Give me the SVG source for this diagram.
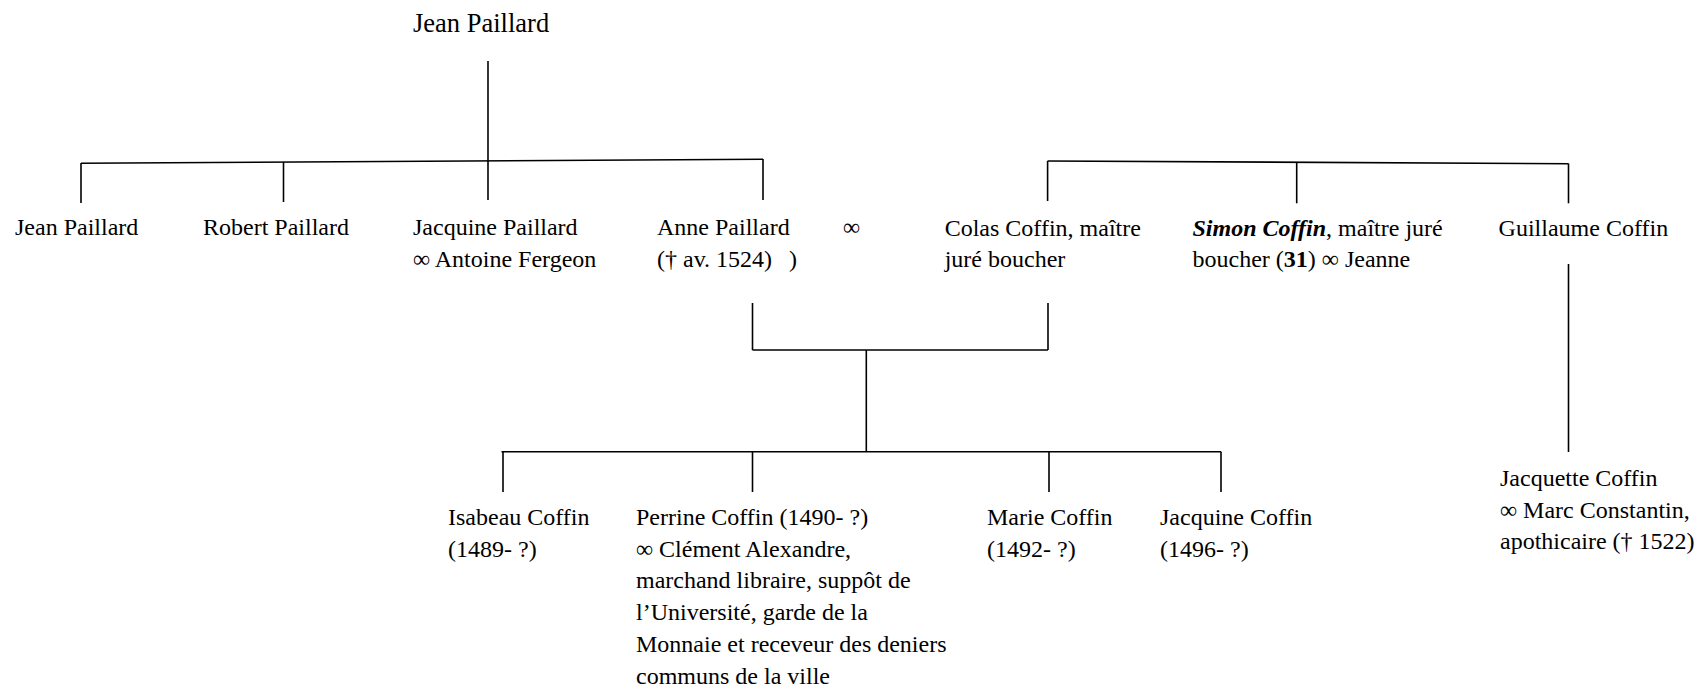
<svg xmlns="http://www.w3.org/2000/svg" width="1699" height="687" viewBox="0 0 1699 687">
<style>
text{font-family:'Liberation Serif','Tinos','Times New Roman','DejaVu Serif',serif;font-size:24px;fill:#000}
.t{font-size:26.5px}
.c line{stroke:#000;stroke-width:1.6;fill:none}
</style>
<rect width="1699" height="687" fill="#fff"/>
<g class="c" id="connectors">
<line x1="488" y1="61" x2="488" y2="200"/>
<line x1="81" y1="163.3" x2="763" y2="159.3"/>
<line x1="81" y1="163" x2="81" y2="203"/>
<line x1="283.5" y1="162" x2="283.5" y2="202"/>
<line x1="763" y1="159" x2="763" y2="200"/>
<line x1="1047.6" y1="161" x2="1568.5" y2="163.7"/>
<line x1="1047.6" y1="161" x2="1047.6" y2="201"/>
<line x1="1296.7" y1="162.5" x2="1296.7" y2="203.3"/>
<line x1="1568.5" y1="163.5" x2="1568.5" y2="203.3"/>
<line x1="1568.5" y1="264" x2="1568.5" y2="452"/>
<line x1="752.5" y1="303" x2="752.5" y2="350"/>
<line x1="1048" y1="303" x2="1048" y2="350"/>
<line x1="752.5" y1="350" x2="1048" y2="350"/>
<line x1="866.3" y1="350" x2="866.3" y2="451"/>
<line x1="501.5" y1="451.7" x2="1221.3" y2="451.7"/>
<line x1="503" y1="452" x2="503" y2="492"/>
<line x1="752.5" y1="452" x2="752.5" y2="492"/>
<line x1="1049" y1="452" x2="1049" y2="492"/>
<line x1="1221" y1="452" x2="1221" y2="492"/>
</g>
<g id="n-jean-root"><text class="t" font-family="Liberation Serif" x="413" y="31.7">Jean Paillard</text></g>
<g id="n-jean"><text x="15" y="235">Jean Paillard</text></g>
<g id="n-robert"><text x="203" y="235">Robert Paillard</text></g>
<g id="n-jacquine-p"><text x="413" y="235">Jacquine Paillard</text><text x="413" y="266.7">∞ Antoine Fergeon</text></g>
<g id="n-anne"><text x="657" y="235">Anne Paillard</text><text x="657" y="266.7">(† av. 1524)<tspan x="789">)</tspan></text></g>
<g id="n-marriage"><text x="843" y="235">∞</text></g>
<g id="n-colas"><text x="944.7" y="235.5">Colas Coffin, maître</text><text x="944.7" y="266.7">juré boucher</text></g>
<g id="n-simon"><text x="1192.5" y="235.5"><tspan font-weight="bold" font-style="italic">Simon Coffin</tspan>, maître juré</text><text x="1192.5" y="266.7">boucher (<tspan font-weight="bold">31</tspan>) ∞ Jeanne</text></g>
<g id="n-guillaume"><text x="1498.6" y="235.5">Guillaume Coffin</text></g>
<g id="n-isabeau"><text x="448" y="525">Isabeau Coffin</text><text x="448" y="556.7">(1489- ?)</text></g>
<g id="n-perrine"><text x="636" y="525">Perrine Coffin (1490- ?)</text><text x="636" y="556.7">∞ Clément Alexandre,</text><text x="636" y="588.4">marchand libraire, suppôt de</text><text x="636" y="620.1">l’Université, garde de la</text><text x="636" y="651.8">Monnaie et receveur des deniers</text><text x="636" y="683.5">communs de la ville</text></g>
<g id="n-marie"><text x="987" y="525">Marie Coffin</text><text x="987" y="556.7">(1492- ?)</text></g>
<g id="n-jacquine-c"><text x="1160" y="525">Jacquine Coffin</text><text x="1160" y="556.7">(1496- ?)</text></g>
<g id="n-jacquette"><text x="1500" y="486">Jacquette Coffin</text><text x="1500" y="518">∞ Marc Constantin,</text><text x="1500" y="549">apothicaire († 1522)</text></g>
</svg>
